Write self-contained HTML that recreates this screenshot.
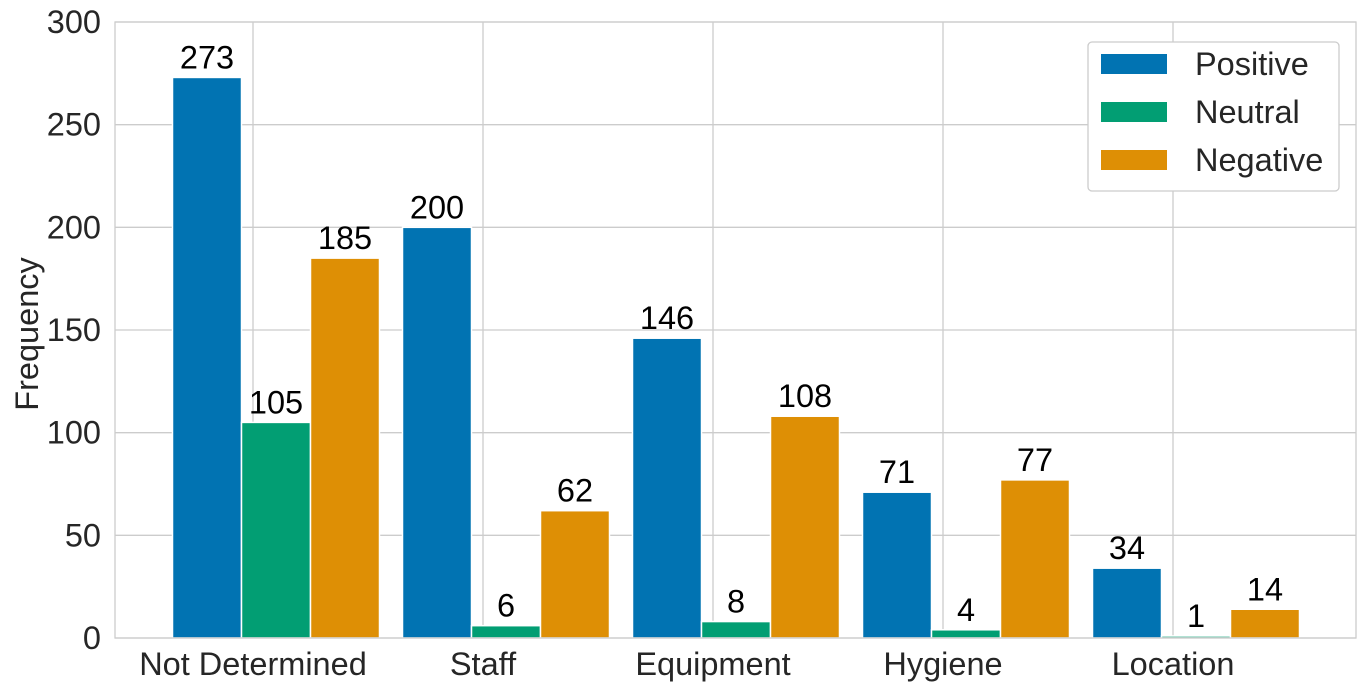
<!DOCTYPE html>
<html><head><meta charset="utf-8"><style>
body{margin:0;background:#fff;}
svg{display:block;font-family:"Liberation Sans",Arial,sans-serif;}
</style></head><body>
<svg id="chart" width="1365" height="692"></svg>
<script>
const categories=["Not Determined","Staff","Equipment","Hygiene","Location"];
const positive=[273,200,146,71,34];
const neutral=[105,6,8,4,1];
const negative=[185,62,108,77,14];
const yTicks=[0,50,100,150,200,250,300];
const seriesNames=["Positive","Neutral","Negative"];
const colors=["#0173b2","#029e73","#de8f05"];

const NS="http://www.w3.org/2000/svg";
const svg=document.getElementById('chart');
const L=115,R=1356,T=22,B=638;
const FS=32.5;
const x=i=>253+i*230;
const y=v=>B-(v/300)*(B-T);
const bw=69;
function el(tag,attrs,parent){const e=document.createElementNS(NS,tag);for(const k in attrs)e.setAttribute(k,attrs[k]);(parent||svg).appendChild(e);return e;}

const grid=el('g',{});


yTicks.forEach(t=>{
  el('line',{x1:L,x2:R,y1:y(t),y2:y(t),stroke:"#cccccc","stroke-width":1.3},grid);
  const tx=el('text',{x:L-14,y:y(t)+11,"text-anchor":"end","font-size":FS,fill:"#262626"});
  tx.textContent=t;
  
  
});
categories.forEach((c,i)=>{
  el('line',{x1:x(i),x2:x(i),y1:T,y2:B,stroke:"#cccccc","stroke-width":1.3},grid);
  const tx=el('text',{x:x(i),y:675,"text-anchor":"middle","font-size":FS,fill:"#262626"});
  tx.textContent=c;
  
  
});

const series=[positive,neutral,negative];
const offsets=[-0.35,-0.05,0.25];
series.forEach((vals,s)=>{
  vals.forEach((v,i)=>{
    const bx=x(i)+offsets[s]*230;
    const r=el('rect',{x:bx,y:y(v),width:bw,height:B-y(v),fill:colors[s],stroke:"#fff","stroke-width":1.5});
    
    
    const t=el('text',{x:bx+bw/2,y:y(v)-9,"text-anchor":"middle","font-size":FS,fill:"#000"});
    t.textContent=v;
    
    
  });
});

const frame=el('rect',{x:L,y:T,width:R-L,height:B-T,fill:"none",stroke:"#cccccc","stroke-width":1.3});



const yt=el('text',{x:0,y:0,transform:"translate(38,334) rotate(-90)","text-anchor":"middle","font-size":FS,fill:"#262626"});
yt.textContent="Frequency";



const lg=el('g',{});


el('rect',{x:1088,y:42,width:251,height:149,rx:4,fill:"#fff",stroke:"#cccccc","stroke-width":1.3},lg);
seriesNames.forEach((n,s)=>{
  const cy=64+s*48;
  const p=el('rect',{x:1101,y:cy-10,width:66,height:20,fill:colors[s]},lg);
  
  
  const t=el('text',{x:1195,y:cy+11,"font-size":FS,fill:"#262626"},lg);
  t.textContent=n;
  
  
});
</script>
</body></html>
